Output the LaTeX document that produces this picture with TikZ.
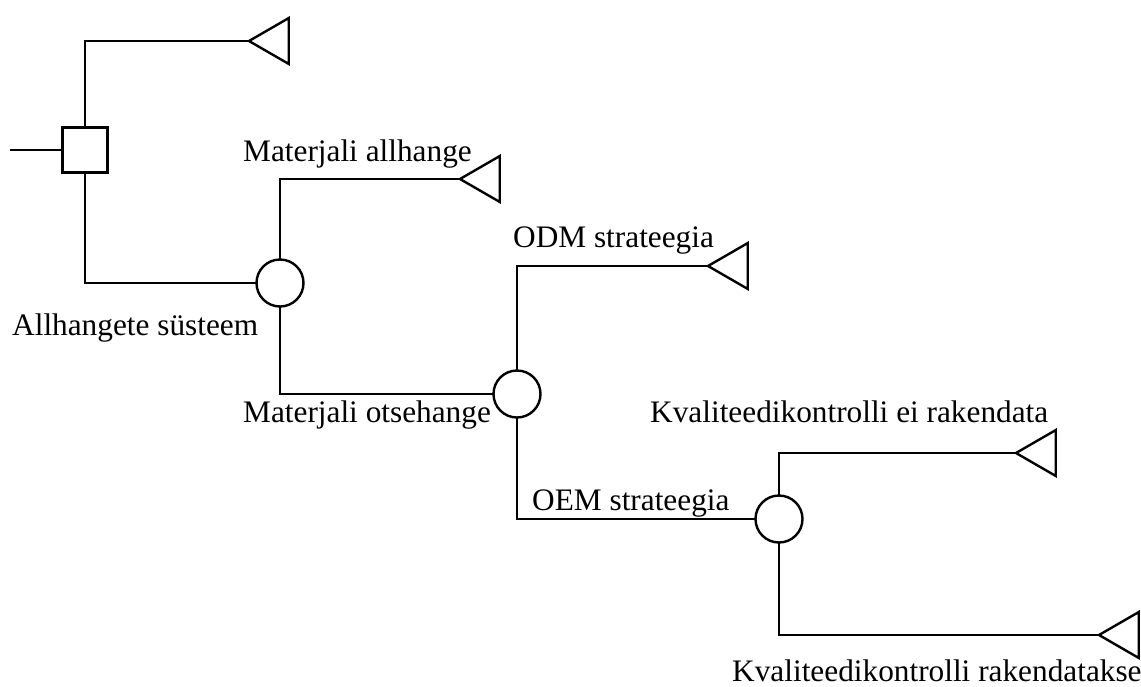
\documentclass[tikz,border=0pt]{standalone}
\usepackage{fontspec}
\setmainfont{Liberation Serif}
\usetikzlibrary{shapes.geometric}

\begin{document}
\begin{tikzpicture}[x=1pt, y=-1pt,
  decision/.style={draw, rectangle, line width=2.4pt, minimum size=45pt, inner sep=0pt, outer sep=0pt},
  chance/.style={draw, circle, line width=2.4pt, minimum size=47pt, inner sep=0pt, outer sep=0pt},
  terminal/.style={draw, regular polygon, regular polygon sides=3, shape border rotate=90,
    line width=2.4pt, minimum size=53pt, inner sep=0pt, outer sep=0pt, anchor=corner 1},
  branch/.style={line width=1.2pt},
  lbl/.style={font=\fontsize{31.3}{36}\selectfont, anchor=base west, inner sep=0pt}]
  \useasboundingbox (0,0) rectangle (1141,686);
  % decision and chance nodes
  \node[decision] (dec) at (85,150) {};
  \node[chance] (ch1) at (280,283) {};
  \node[chance] (ch2) at (517,394) {};
  \node[chance] (ch3) at (779,519) {};
  % end points
  \node[terminal] (end1) at (249,41) {};
  \node[terminal] (end2) at (460,179) {};
  \node[terminal] (end3) at (708,266) {};
  \node[terminal] (end4) at (1016,453) {};
  \node[terminal] (end5) at (1099,635) {};
  % branches
  \coordinate (root) at (10,150);
  \draw[branch] (root) -- (dec.west);
  \draw[branch] (dec.north) |- (end1.corner 1);
  \draw[branch] (dec.south) |- (ch1.west);
  \draw[branch] (ch1.north) |- (end2.corner 1);
  \draw[branch] (ch1.south) |- (ch2.west);
  \draw[branch] (ch2.north) |- (end3.corner 1);
  \draw[branch] (ch2.south) |- (ch3.west);
  \draw[branch] (ch3.north) |- (end4.corner 1);
  \draw[branch] (ch3.south) |- (end5.corner 1);
  % labels
  \node[lbl] (tAll) at (12,335) {Allhangete süsteem};
  \node[lbl] (tMa) at (243,161) {Materjali allhange};
  \node[lbl] (tMo) at (243,422) {Materjali otsehange};
  \node[lbl] (tODM) at (513,247) {ODM strateegia};
  \node[lbl] (tOEM) at (532,510) {OEM strateegia};
  \node[lbl] (tKei) at (650,422) {Kvaliteedikontrolli ei rakendata};
  \node[lbl] (tKr) at (732,681) {Kvaliteedikontrolli rakendatakse};
\end{tikzpicture}
\end{document}
